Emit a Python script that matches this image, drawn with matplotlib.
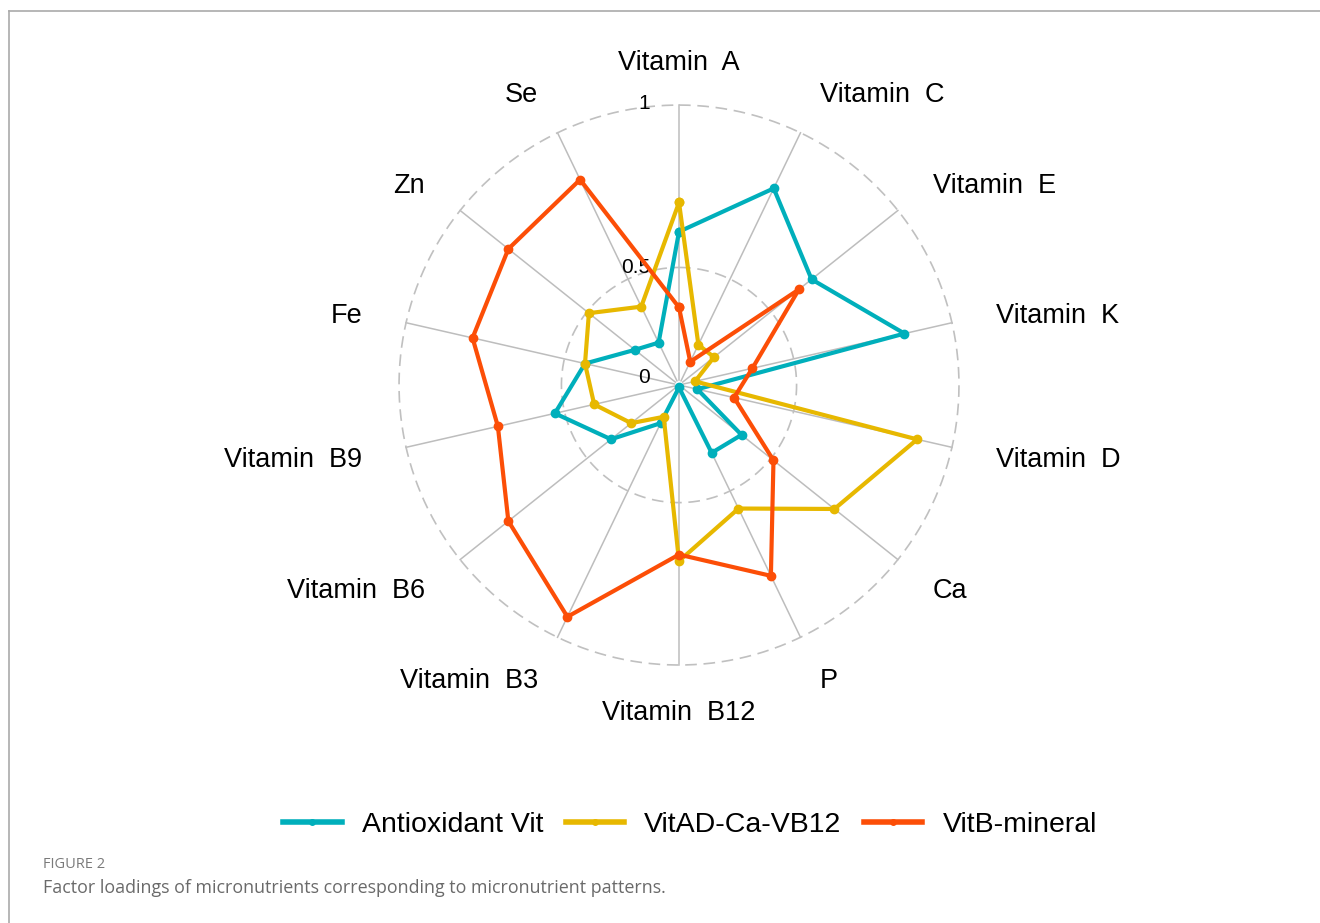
import numpy as np
import matplotlib.pyplot as plt
from matplotlib.lines import Line2D

plt.rcParams['font.family'] = ['Liberation Sans', 'DejaVu Sans']

# 营养素（从顶部开始顺时针）
nutrients = ['Vitamin  A', 'Vitamin  C', 'Vitamin  E', 'Vitamin  K', 'Vitamin  D', 'Ca', 'P',
             'Vitamin  B12', 'Vitamin  B3', 'Vitamin  B6', 'Vitamin  B9', 'Fe', 'Zn', 'Se']

# 因子载荷
antioxidant_vit = [0.61, 0.81, 0.66, 0.85, 0.08, 0.34, 0.32, 0.01, 0.18, 0.37, 0.53, 0.41, 0.24, 0.20]
vitad_ca_vb12 = [0.70, 0.19, 0.19, 0.07, 0.89, 0.75, 0.56, 0.68, 0.15, 0.26, 0.37, 0.41, 0.49, 0.37]
vitb_mineral = [0.33, 0.11, 0.61, 0.32, 0.24, 0.51, 0.79, 0.66, 0.93, 0.81, 0.71, 0.79, 0.81, 0.84]

series_names = ['Antioxidant Vit', 'VitAD-Ca-VB12', 'VitB-mineral']
colors = ['#00AFBB', '#E7B800', '#FC4E07']

grid_values = [0, 0.5, 1]
grid_labels = ['0', '0.5', '1']


# 径向刻度：0.5 的网格圈比线性位置更靠内
def fwd(v):
    return np.interp(v, [0, 0.5, 1], [0, 0.42, 1])


def inv(r):
    return np.interp(r, [0, 0.42, 1], [0, 0.5, 1])


fig = plt.figure(figsize=(13.2, 9.23), dpi=100)
ax = fig.add_axes([0.3023, 0.2795, 0.4242, 0.6067], projection='polar')
ax.set_theta_offset(np.pi / 2)
ax.set_theta_direction(-1)
ax.set_rscale('function', functions=(fwd, inv))
ax.set_rlim(0, 1)
ax.grid(False)
ax.set_xticks([])
ax.set_yticks([])
ax.spines['polar'].set_visible(False)

n = len(nutrients)
angles = np.arange(n) * 2 * np.pi / n

# 网格：辐射线 + 虚线圆
for ang in angles:
    ax.plot([ang, ang], [0.02, 1], color='#bdbdbd', lw=1.1, zorder=1, clip_on=False)
circ = np.linspace(0, 2 * np.pi, 400)
for g in grid_values[1:]:
    ax.plot(circ, np.full_like(circ, g), color='#c0c0c0', lw=1.2, ls=(0, (7, 4)),
            zorder=1, clip_on=False)

for g, lab in zip(grid_values, grid_labels):
    dy = {0: 8, 0.5: 0, 1: 2}[g]
    ax.annotate(lab, xy=(0, g), xytext=(-29, dy), textcoords='offset pixels',
                ha='right', va='center', fontsize=15, color='black', zorder=2)

# 数据
handles = []
for vals, name, col in zip([antioxidant_vit, vitad_ca_vb12, vitb_mineral], series_names, colors):
    th = np.append(angles, angles[0])
    rr = np.append(vals, vals[0])
    h, = ax.plot(th, rr, color=col, lw=3, marker='o', markersize=6, label=name,
                 zorder=3, clip_on=False)
    handles.append(h)

# 轴标签
for ang, name in zip(angles, nutrients):
    s, c = np.sin(ang), np.cos(ang)
    if abs(s) < 1e-6:
        ha = 'center'
    elif s > 0:
        ha = 'left'
    else:
        ha = 'right'
    ax.text(0.5 + 0.58 * s, 0.5 + 0.58 * c, name, transform=ax.transAxes,
            ha=ha, va='center_baseline', fontsize=19.5)

leg_handles = [Line2D([0], [0], color=c, lw=4, marker='o', markersize=4) for c in colors]
fig.legend(leg_handles, series_names, loc='center', bbox_to_anchor=(690 / 1320, 1 - 825 / 923),
           ncol=3, frameon=False, fontsize=20.5, handlelength=2.05, handletextpad=0.7,
           columnspacing=0.8)

# 边框（上、左）
fig.add_artist(Line2D([9 / 1320, 1], [1 - 10.5 / 923] * 2, color='#aaaaaa', lw=1.2))
fig.add_artist(Line2D([9 / 1320] * 2, [0, 1 - 10.5 / 923], color='#aaaaaa', lw=1.2))

fig.text(43 / 1320, 1 - 865 / 923, 'FIGURE 2', fontsize=10.5, color='#7a7a7a',
         family=['Open Sans', 'DejaVu Sans'], va='center')
fig.text(43 / 1320, 1 - 888 / 923,
         'Factor loadings of micronutrients corresponding to micronutrient patterns.',
         fontsize=12.9, color='#6a6a6a', family=['Open Sans', 'DejaVu Sans'], va='center')

fig.savefig('out.png', dpi=100)
